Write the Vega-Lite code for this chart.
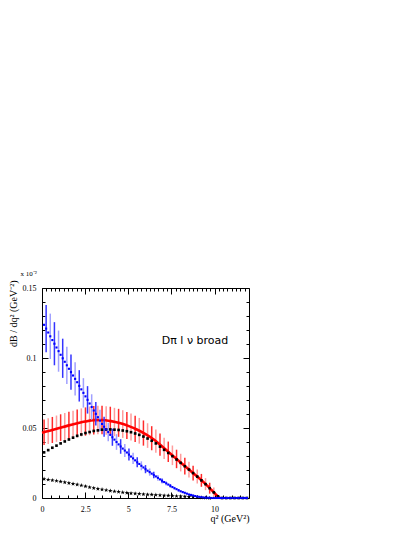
{
  "$schema": "https://vega.github.io/schema/vega-lite/v6.json",
  "description": "D pi l nu broad: dB/dq2 spectra",
  "width": 207,
  "height": 210,
  "autosize": "none",
  "padding": {"left": 42, "top": 288, "right": 166, "bottom": 39},
  "background": "white",
  "datasets": {
    "redLine": [
      {"x": 0, "y": 0.0466}, {"x": 0.5, "y": 0.0483}, {"x": 1, "y": 0.05}, {"x": 1.5, "y": 0.0517},
      {"x": 2, "y": 0.0532}, {"x": 2.5, "y": 0.0546}, {"x": 3, "y": 0.0556}, {"x": 3.5, "y": 0.0557},
      {"x": 4, "y": 0.0549}, {"x": 4.5, "y": 0.0535}, {"x": 5, "y": 0.0515}, {"x": 5.5, "y": 0.0489},
      {"x": 6, "y": 0.0456}, {"x": 6.5, "y": 0.0416}, {"x": 7, "y": 0.0364}, {"x": 7.5, "y": 0.0311},
      {"x": 8, "y": 0.0257}, {"x": 8.5, "y": 0.0205}, {"x": 9, "y": 0.0153}, {"x": 9.5, "y": 0.0097},
      {"x": 10, "y": 0.0035}, {"x": 10.3, "y": 0}
    ],
    "redErr": [
      {"x": 0.12, "lo": 0.0379, "hi": 0.0561, "c": "d"}, {"x": 0.36, "lo": 0.0386, "hi": 0.057, "c": "l"},
      {"x": 0.6, "lo": 0.0393, "hi": 0.0579, "c": "d"}, {"x": 0.84, "lo": 0.0401, "hi": 0.0589, "c": "l"},
      {"x": 1.08, "lo": 0.0408, "hi": 0.0598, "c": "d"}, {"x": 1.32, "lo": 0.0415, "hi": 0.0607, "c": "l"},
      {"x": 1.56, "lo": 0.0422, "hi": 0.0616, "c": "d"}, {"x": 1.8, "lo": 0.0428, "hi": 0.0624, "c": "l"},
      {"x": 2.04, "lo": 0.0434, "hi": 0.0632, "c": "d"}, {"x": 2.28, "lo": 0.044, "hi": 0.064, "c": "l"},
      {"x": 2.52, "lo": 0.0445, "hi": 0.0647, "c": "d"}, {"x": 2.76, "lo": 0.0449, "hi": 0.0653, "c": "l"},
      {"x": 3.0, "lo": 0.0454, "hi": 0.0658, "c": "d"}, {"x": 3.24, "lo": 0.0455, "hi": 0.0659, "c": "l"},
      {"x": 3.48, "lo": 0.0455, "hi": 0.0659, "c": "d"}, {"x": 3.72, "lo": 0.0452, "hi": 0.0656, "c": "l"},
      {"x": 3.96, "lo": 0.0448, "hi": 0.0652, "c": "d"}, {"x": 4.2, "lo": 0.0442, "hi": 0.0644, "c": "l"},
      {"x": 4.44, "lo": 0.0437, "hi": 0.0637, "c": "d"}, {"x": 4.68, "lo": 0.0429, "hi": 0.0627, "c": "l"},
      {"x": 4.92, "lo": 0.0421, "hi": 0.0615, "c": "d"}, {"x": 5.16, "lo": 0.0411, "hi": 0.0603, "c": "l"},
      {"x": 5.4, "lo": 0.04, "hi": 0.0588, "c": "d"}, {"x": 5.64, "lo": 0.0388, "hi": 0.0572, "c": "l"},
      {"x": 5.88, "lo": 0.0374, "hi": 0.0554, "c": "d"}, {"x": 6.12, "lo": 0.0358, "hi": 0.0534, "c": "l"},
      {"x": 6.36, "lo": 0.0341, "hi": 0.0513, "c": "d"}, {"x": 6.6, "lo": 0.0323, "hi": 0.0489, "c": "l"},
      {"x": 6.84, "lo": 0.0301, "hi": 0.0461, "c": "d"}, {"x": 7.08, "lo": 0.0279, "hi": 0.0431, "c": "l"},
      {"x": 7.32, "lo": 0.0257, "hi": 0.0403, "c": "d"}, {"x": 7.56, "lo": 0.0235, "hi": 0.0375, "c": "l"},
      {"x": 7.8, "lo": 0.0213, "hi": 0.0345, "c": "d"}, {"x": 8.04, "lo": 0.019, "hi": 0.0316, "c": "l"},
      {"x": 8.28, "lo": 0.0168, "hi": 0.0288, "c": "d"}, {"x": 8.52, "lo": 0.0147, "hi": 0.0259, "c": "l"},
      {"x": 8.76, "lo": 0.0125, "hi": 0.0231, "c": "d"}, {"x": 9.0, "lo": 0.0103, "hi": 0.0203, "c": "l"},
      {"x": 9.24, "lo": 0.008, "hi": 0.0172, "c": "d"}, {"x": 9.48, "lo": 0.0056, "hi": 0.0142, "c": "l"},
      {"x": 9.72, "lo": 0.0031, "hi": 0.0109, "c": "d"}, {"x": 9.96, "lo": 0.0005, "hi": 0.0075, "c": "l"}
    ],
    "blueErr": [
      {"x": 0.24, "lo": 0.1041, "hi": 0.1379, "c": "d"}, {"x": 0.48, "lo": 0.0993, "hi": 0.1317, "c": "l"},
      {"x": 0.72, "lo": 0.0948, "hi": 0.1256, "c": "d"}, {"x": 0.96, "lo": 0.0902, "hi": 0.1196, "c": "l"},
      {"x": 1.2, "lo": 0.0858, "hi": 0.1138, "c": "d"}, {"x": 1.44, "lo": 0.0815, "hi": 0.1081, "c": "l"},
      {"x": 1.68, "lo": 0.0773, "hi": 0.1025, "c": "d"}, {"x": 1.92, "lo": 0.0732, "hi": 0.097, "c": "l"},
      {"x": 2.16, "lo": 0.0689, "hi": 0.0913, "c": "d"}, {"x": 2.4, "lo": 0.0646, "hi": 0.0856, "c": "l"},
      {"x": 2.64, "lo": 0.0603, "hi": 0.0799, "c": "d"}, {"x": 2.88, "lo": 0.0559, "hi": 0.0741, "c": "l"},
      {"x": 3.12, "lo": 0.0517, "hi": 0.0685, "c": "d"}, {"x": 3.36, "lo": 0.0476, "hi": 0.063, "c": "l"},
      {"x": 3.6, "lo": 0.0438, "hi": 0.058, "c": "d"}, {"x": 3.84, "lo": 0.0405, "hi": 0.0537, "c": "l"},
      {"x": 4.08, "lo": 0.0373, "hi": 0.0495, "c": "d"}, {"x": 4.32, "lo": 0.0344, "hi": 0.0456, "c": "l"},
      {"x": 4.56, "lo": 0.0316, "hi": 0.042, "c": "d"}, {"x": 4.8, "lo": 0.0292, "hi": 0.0386, "c": "l"},
      {"x": 5.04, "lo": 0.0267, "hi": 0.0353, "c": "d"}, {"x": 5.28, "lo": 0.0243, "hi": 0.0323, "c": "l"},
      {"x": 5.52, "lo": 0.0219, "hi": 0.0291, "c": "d"}, {"x": 5.76, "lo": 0.0198, "hi": 0.0262, "c": "l"},
      {"x": 6.0, "lo": 0.0177, "hi": 0.0235, "c": "d"}, {"x": 6.24, "lo": 0.0159, "hi": 0.0211, "c": "l"},
      {"x": 6.48, "lo": 0.0141, "hi": 0.0187, "c": "d"}, {"x": 6.72, "lo": 0.0124, "hi": 0.0164, "c": "l"},
      {"x": 6.96, "lo": 0.0106, "hi": 0.014, "c": "d"}, {"x": 7.2, "lo": 0.009, "hi": 0.012, "c": "l"},
      {"x": 7.44, "lo": 0.0075, "hi": 0.0099, "c": "d"}, {"x": 7.68, "lo": 0.006, "hi": 0.008, "c": "l"},
      {"x": 7.92, "lo": 0.0047, "hi": 0.0063, "c": "d"}, {"x": 8.16, "lo": 0.0036, "hi": 0.0048, "c": "l"}
    ],
    "black": [
      {"x": 0.12, "y": 0.0326}, {"x": 0.36, "y": 0.0342}, {"x": 0.6, "y": 0.0359}, {"x": 0.84, "y": 0.0374},
      {"x": 1.08, "y": 0.039}, {"x": 1.32, "y": 0.0404}, {"x": 1.56, "y": 0.0418}, {"x": 1.8, "y": 0.0431},
      {"x": 2.04, "y": 0.0444}, {"x": 2.28, "y": 0.0454}, {"x": 2.52, "y": 0.0464}, {"x": 2.76, "y": 0.0471},
      {"x": 3.0, "y": 0.0479}, {"x": 3.24, "y": 0.0483}, {"x": 3.48, "y": 0.0488}, {"x": 3.72, "y": 0.0489},
      {"x": 3.96, "y": 0.049}, {"x": 4.2, "y": 0.0488}, {"x": 4.44, "y": 0.0486}, {"x": 4.68, "y": 0.0482},
      {"x": 4.92, "y": 0.0477}, {"x": 5.16, "y": 0.047}, {"x": 5.4, "y": 0.0461}, {"x": 5.64, "y": 0.0451},
      {"x": 5.88, "y": 0.0439}, {"x": 6.12, "y": 0.0425}, {"x": 6.36, "y": 0.0409}, {"x": 6.6, "y": 0.039},
      {"x": 6.84, "y": 0.0367}, {"x": 7.08, "y": 0.0344}, {"x": 7.32, "y": 0.0322}, {"x": 7.56, "y": 0.0299},
      {"x": 7.8, "y": 0.0275}, {"x": 8.04, "y": 0.0251}, {"x": 8.28, "y": 0.0227}, {"x": 8.52, "y": 0.0203},
      {"x": 8.76, "y": 0.0178}, {"x": 9.0, "y": 0.0153}, {"x": 9.24, "y": 0.0126}, {"x": 9.48, "y": 0.0099},
      {"x": 9.72, "y": 0.007}, {"x": 9.96, "y": 0.004}, {"x": 10.2, "y": 0.0012}, {"x": 10.44, "y": 0},
      {"x": 10.68, "y": 0}, {"x": 10.92, "y": 0}, {"x": 11.16, "y": 0}, {"x": 11.4, "y": 0},
      {"x": 11.64, "y": 0}, {"x": 11.88, "y": 0}
    ],
    "stars": [
      {"x": 0.12, "y": 0.0136}, {"x": 0.36, "y": 0.0131}, {"x": 0.6, "y": 0.0127}, {"x": 0.84, "y": 0.0122},
      {"x": 1.08, "y": 0.0117}, {"x": 1.32, "y": 0.0112}, {"x": 1.56, "y": 0.0107}, {"x": 1.8, "y": 0.0101},
      {"x": 2.04, "y": 0.0096}, {"x": 2.28, "y": 0.009}, {"x": 2.52, "y": 0.0083}, {"x": 2.76, "y": 0.0077},
      {"x": 3.0, "y": 0.0071}, {"x": 3.24, "y": 0.0066}, {"x": 3.48, "y": 0.0061}, {"x": 3.72, "y": 0.0056},
      {"x": 3.96, "y": 0.0051}, {"x": 4.2, "y": 0.0047}, {"x": 4.44, "y": 0.0044}, {"x": 4.68, "y": 0.004},
      {"x": 4.92, "y": 0.0037}, {"x": 5.16, "y": 0.0034}, {"x": 5.4, "y": 0.0032}, {"x": 5.64, "y": 0.003},
      {"x": 5.88, "y": 0.0027}, {"x": 6.12, "y": 0.0025}, {"x": 6.36, "y": 0.0024}, {"x": 6.6, "y": 0.0022},
      {"x": 6.84, "y": 0.002}, {"x": 7.08, "y": 0.0018}, {"x": 7.32, "y": 0.0017}, {"x": 7.56, "y": 0.0015},
      {"x": 7.8, "y": 0.0013}, {"x": 8.04, "y": 0.0012}, {"x": 8.28, "y": 0.001}, {"x": 8.52, "y": 0.0008},
      {"x": 8.76, "y": 0.0007}, {"x": 9.0, "y": 0.0005}, {"x": 9.24, "y": 0.0003}, {"x": 9.48, "y": 0.0001},
      {"x": 9.72, "y": 0}
    ],
    "blue": [
      {"x": 0.12, "y": 0.1237}, {"x": 0.24, "y": 0.121}, {"x": 0.36, "y": 0.1182}, {"x": 0.48, "y": 0.1155},
      {"x": 0.6, "y": 0.1128}, {"x": 0.72, "y": 0.1102}, {"x": 0.84, "y": 0.1075}, {"x": 0.96, "y": 0.1049},
      {"x": 1.08, "y": 0.1023}, {"x": 1.2, "y": 0.0998}, {"x": 1.32, "y": 0.0973}, {"x": 1.44, "y": 0.0948},
      {"x": 1.56, "y": 0.0923}, {"x": 1.68, "y": 0.0899}, {"x": 1.8, "y": 0.0875}, {"x": 1.92, "y": 0.0851},
      {"x": 2.04, "y": 0.0827}, {"x": 2.16, "y": 0.0801}, {"x": 2.28, "y": 0.0776}, {"x": 2.4, "y": 0.0751},
      {"x": 2.52, "y": 0.0726}, {"x": 2.64, "y": 0.0701}, {"x": 2.76, "y": 0.0675}, {"x": 2.88, "y": 0.065},
      {"x": 3.0, "y": 0.0625}, {"x": 3.12, "y": 0.0601}, {"x": 3.24, "y": 0.0577}, {"x": 3.36, "y": 0.0553},
      {"x": 3.48, "y": 0.0529}, {"x": 3.6, "y": 0.0509}, {"x": 3.72, "y": 0.049}, {"x": 3.84, "y": 0.0471},
      {"x": 3.96, "y": 0.0451}, {"x": 4.08, "y": 0.0434}, {"x": 4.2, "y": 0.0417}, {"x": 4.32, "y": 0.04},
      {"x": 4.44, "y": 0.0383}, {"x": 4.56, "y": 0.0368}, {"x": 4.68, "y": 0.0353}, {"x": 4.8, "y": 0.0339},
      {"x": 4.92, "y": 0.0325}, {"x": 5.04, "y": 0.031}, {"x": 5.16, "y": 0.0296}, {"x": 5.28, "y": 0.0283},
      {"x": 5.4, "y": 0.0269}, {"x": 5.52, "y": 0.0255}, {"x": 5.64, "y": 0.0243}, {"x": 5.76, "y": 0.023},
      {"x": 5.88, "y": 0.0218}, {"x": 6.0, "y": 0.0206}, {"x": 6.12, "y": 0.0195}, {"x": 6.24, "y": 0.0185},
      {"x": 6.36, "y": 0.0174}, {"x": 6.48, "y": 0.0164}, {"x": 6.6, "y": 0.0154}, {"x": 6.72, "y": 0.0144},
      {"x": 6.84, "y": 0.0133}, {"x": 6.96, "y": 0.0123}, {"x": 7.08, "y": 0.0114}, {"x": 7.2, "y": 0.0105},
      {"x": 7.32, "y": 0.0096}, {"x": 7.44, "y": 0.0087}, {"x": 7.56, "y": 0.0078}, {"x": 7.68, "y": 0.007},
      {"x": 7.8, "y": 0.0063}, {"x": 7.92, "y": 0.0055}, {"x": 8.04, "y": 0.0048}, {"x": 8.16, "y": 0.0042},
      {"x": 8.28, "y": 0.0037}, {"x": 8.4, "y": 0.0031}, {"x": 8.52, "y": 0.0025}, {"x": 8.64, "y": 0.0022},
      {"x": 8.76, "y": 0.0018}, {"x": 8.88, "y": 0.0014}, {"x": 9.0, "y": 0.001}, {"x": 9.12, "y": 0.0008},
      {"x": 9.24, "y": 0.0006}, {"x": 9.36, "y": 0.0004}, {"x": 9.48, "y": 0.0002}, {"x": 9.6, "y": 0.0002},
      {"x": 9.72, "y": 0.0001}, {"x": 9.84, "y": 0}, {"x": 9.96, "y": 0}, {"x": 10.08, "y": 0},
      {"x": 10.2, "y": 0}, {"x": 10.32, "y": 0}, {"x": 10.44, "y": 0}, {"x": 10.56, "y": 0},
      {"x": 10.68, "y": 0}, {"x": 10.8, "y": 0}, {"x": 10.92, "y": 0}, {"x": 11.04, "y": 0},
      {"x": 11.16, "y": 0}, {"x": 11.28, "y": 0}, {"x": 11.4, "y": 0}, {"x": 11.52, "y": 0},
      {"x": 11.64, "y": 0}, {"x": 11.76, "y": 0}, {"x": 11.88, "y": 0}
    ]
  },
  "layer": [
    {
      "data": {"name": "redErr"},
      "mark": {"type": "rule", "strokeWidth": 1.5},
      "encoding": {
        "x": {"field": "x", "type": "quantitative", "scale": {"domain": [0, 12], "nice": false, "zero": false},
          "axis": {"orient": "bottom", "values": [0, 2.5, 5, 7.5, 10], "tickSize": -6, "labelPadding": 13,
            "labelExpr": "'' + datum.value", "title": "q² (GeV²)", "titleX": 207, "titleY": 23,
            "titleAlign": "right", "titleBaseline": "alphabetic", "titleFontSize": 10}},
        "y": {"field": "lo", "type": "quantitative", "scale": {"domain": [0, 0.15], "nice": false, "zero": false},
          "axis": {"orient": "left", "values": [0, 0.05, 0.1, 0.15], "tickSize": -6, "labelPadding": 12,
            "labelExpr": "'' + datum.value", "title": "dB / dq² (GeV⁻²)", "titleX": -26, "titleY": -8,
            "titleAngle": 270, "titleAlign": "right", "titleBaseline": "alphabetic", "titleFontSize": 10}},
        "y2": {"field": "hi"},
        "color": {"condition": {"test": "datum.c == 'l'", "value": "#ff9c9c"}, "value": "#ff2a2a"}
      }
    },
    {
      "data": {"name": "redLine"},
      "mark": {"type": "line", "color": "#ff0000", "strokeWidth": 2.6, "interpolate": "monotone"},
      "encoding": {
        "x": {"field": "x", "type": "quantitative", "scale": {"domain": [0, 12], "nice": false, "zero": false},
          "axis": {"orient": "top", "values": [0, 2.5, 5, 7.5, 10], "tickSize": -6, "labels": false,
            "title": "x 10⁻²", "titleX": -22, "titleY": -13, "titleAlign": "left",
            "titleBaseline": "alphabetic", "titleFontSize": 7}},
        "y": {"field": "y", "type": "quantitative", "scale": {"domain": [0, 0.15], "nice": false, "zero": false},
          "axis": {"orient": "right", "values": [0, 0.05, 0.1, 0.15], "tickSize": -6, "labels": false, "title": null}}
      }
    },
    {
      "data": {"name": "blueErr"},
      "mark": {"type": "rule", "strokeWidth": 1.5},
      "encoding": {
        "x": {"field": "x", "type": "quantitative", "scale": {"domain": [0, 12], "nice": false, "zero": false},
          "axis": {"orient": "bottom", "values": [0.5, 1, 1.5, 2, 3, 3.5, 4, 4.5, 5.5, 6, 6.5, 7, 8, 8.5, 9, 9.5, 10.5, 11, 11.5],
            "tickSize": -3, "labels": false, "title": null}},
        "y": {"field": "lo", "type": "quantitative", "scale": {"domain": [0, 0.15], "nice": false, "zero": false},
          "axis": {"orient": "left", "values": [0.01, 0.02, 0.03, 0.04, 0.06, 0.07, 0.08, 0.09, 0.11, 0.12, 0.13, 0.14],
            "tickSize": -3, "labels": false, "title": null}},
        "y2": {"field": "hi"},
        "color": {"condition": {"test": "datum.c == 'l'", "value": "#a0a0ff"}, "value": "#3434ff"}
      }
    },
    {
      "data": {"name": "black"},
      "mark": {"type": "point", "shape": "square", "filled": true, "size": 7, "color": "black", "opacity": 1},
      "encoding": {
        "x": {"field": "x", "type": "quantitative", "scale": {"domain": [0, 12], "nice": false, "zero": false},
          "axis": {"orient": "top", "values": [0.25, 0.5, 0.75, 1, 1.25, 1.5, 1.75, 2, 2.25, 2.75, 3, 3.25, 3.5, 3.75, 4, 4.25, 4.5, 4.75, 5.25, 5.5, 5.75, 6, 6.25, 6.5, 6.75, 7, 7.25, 7.75, 8, 8.25, 8.5, 8.75, 9, 9.25, 9.5, 9.75, 10.25, 10.5, 10.75, 11, 11.25, 11.5, 11.75],
            "tickSize": -3, "labels": false, "title": null}},
        "y": {"field": "y", "type": "quantitative", "scale": {"domain": [0, 0.15], "nice": false, "zero": false},
          "axis": {"orient": "right", "values": [0.01, 0.02, 0.03, 0.04, 0.06, 0.07, 0.08, 0.09, 0.11, 0.12, 0.13, 0.14],
            "tickSize": -3, "labels": false, "title": null}}
      }
    },
    {
      "data": {"name": "stars"},
      "mark": {"type": "point", "shape": "M0,-1L0.24,-0.33L0.95,-0.31L0.38,0.12L0.59,0.81L0,0.4L-0.59,0.81L-0.38,0.12L-0.95,-0.31L-0.24,-0.33Z",
        "filled": true, "size": 22, "color": "black", "opacity": 1},
      "encoding": {
        "x": {"field": "x", "type": "quantitative", "scale": {"domain": [0, 12], "nice": false, "zero": false}, "axis": null},
        "y": {"field": "y", "type": "quantitative", "scale": {"domain": [0, 0.15], "nice": false, "zero": false}, "axis": null}
      }
    },
    {
      "data": {"name": "blue"},
      "mark": {"type": "point", "shape": "square", "filled": true, "size": 4.5, "color": "#0000ff", "opacity": 1},
      "encoding": {
        "x": {"field": "x", "type": "quantitative", "scale": {"domain": [0, 12], "nice": false, "zero": false}, "axis": null},
        "y": {"field": "y", "type": "quantitative", "scale": {"domain": [0, 0.15], "nice": false, "zero": false}, "axis": null}
      }
    },
    {
      "data": {"values": [{}]},
      "mark": {"type": "text", "text": "Dπ l ν broad", "font": "DejaVu Sans", "fontSize": 11, "color": "black",
        "align": "center", "baseline": "middle"},
      "encoding": {
        "x": {"datum": 8.87, "type": "quantitative", "scale": {"domain": [0, 12], "nice": false, "zero": false}, "axis": null},
        "y": {"datum": 0.112, "type": "quantitative", "scale": {"domain": [0, 0.15], "nice": false, "zero": false}, "axis": null}
      }
    }
  ],
  "resolve": {"axis": {"x": "independent", "y": "independent"}},
  "config": {
    "view": {"stroke": "black", "strokeWidth": 1},
    "axis": {
      "domain": false, "grid": false, "tickColor": "black", "tickWidth": 1,
      "labelFont": "Liberation Serif", "labelFontSize": 8, "labelColor": "black",
      "labelOverlap": false, "labelFlush": false,
      "titleFont": "Liberation Serif", "titleFontWeight": "normal", "titleColor": "black"
    }
  }
}
